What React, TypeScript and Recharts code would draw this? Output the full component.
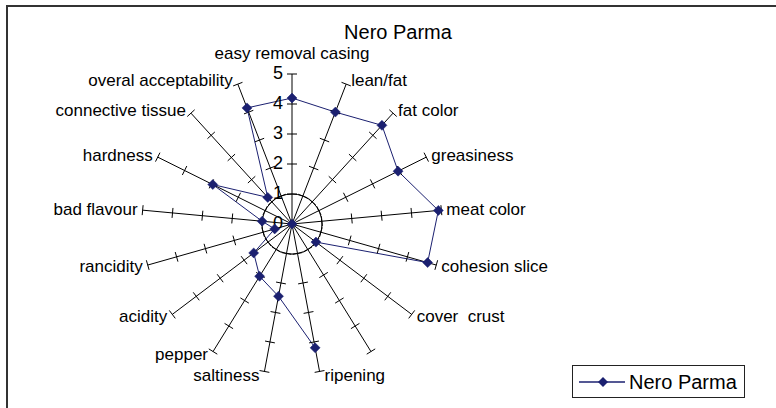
import React from 'react';
import { RadarChart, Radar, PolarGrid, PolarAngleAxis, PolarRadiusAxis, Legend } from 'recharts';

const categories = [
  'easy removal casing',
  'lean/fat',
  'fat color',
  'greasiness',
  'meat color',
  'cohesion slice',
  'cover  crust',
  '',
  'ripening',
  'saltiness',
  'pepper',
  'acidity',
  'rancidity',
  'bad flavour',
  'hardness',
  'connective tissue',
  'overal acceptability',
];
const neroParma: (number | null)[] = [4.2, 4.0, 4.45, 3.95, 4.9, 4.7, 1.0, null, 4.2, 2.45, 2.05, 1.6, 0.6, 1.0, 2.95, 1.2, 4.15];
const radiusTicks = [0, 1, 2, 3, 4, 5];
const seriesName = 'Nero Parma';
const chartTitle = 'Nero Parma';

const data = categories.map((name, i) => ({ name, value: neroParma[i] }));

const W = 776;
const H = 408;
const CX = 292;
const CY = 224;
const OUTER = 150;
const MAXV = radiusTicks[radiusTicks.length - 1];
const FONT = '"Liberation Sans", Arial, Helvetica, sans-serif';
const NAVY = '#1B2070';
const RAD = Math.PI / 180;

function AngleTick(props: any) {
  const { payload, index } = props;
  const cx = typeof props.cx === 'number' ? props.cx : CX;
  const cy = typeof props.cy === 'number' ? props.cy : CY;
  const radius = typeof props.radius === 'number' ? props.radius : OUTER;
  const angle = payload.coordinate;
  const dx = Math.cos(-angle * RAD);
  const dy = Math.sin(-angle * RAD);
  const px = -dy;
  const py = dx;
  const crosses = radiusTicks.filter((v) => v > 0).map((v) => {
    const r = (radius * v) / MAXV;
    const x = cx + dx * r;
    const y = cy + dy * r;
    return (
      <line key={v} x1={x - px * 5} y1={y - py * 5} x2={x + px * 5} y2={y + py * 5} stroke="#000" strokeWidth={1} />
    );
  });
  const ex = cx + dx * radius;
  const ey = cy + dy * radius;
  let tx = ex;
  let ty = ey + 4 * dy;
  let anchor: 'start' | 'end' | 'middle' = 'middle';
  if (Math.abs(dx) < 0.2 && dy < 0) {
    ty = ey - 21;
  } else {
    anchor = dx > 0 ? 'start' : 'end';
    tx = ex + (dx > 0 ? 5 : -5);
  }
  return (
    <g key={`at-${index}`}>
      {crosses}
      {payload.value ? (
        <text x={tx} y={ty} textAnchor={anchor} dominantBaseline="central" fontFamily={FONT} fontSize={17} fill="#000" style={{ whiteSpace: 'pre' }}>
          {payload.value}
        </text>
      ) : null}
    </g>
  );
}

function RadiusTick(props: any) {
  const { x, y, payload } = props;
  return (
    <text x={x - 9} y={y - 1} textAnchor="end" dominantBaseline="central" fontFamily={FONT} fontSize={18} fill="#000">
      {payload.value}
    </text>
  );
}

function RadarPath(props: any) {
  const pts = props.points || [];
  const n = pts.length;
  const ok = (p: any) => p && Number.isFinite(p.x) && Number.isFinite(p.y) && p.value !== null && p.value !== undefined;
  let d = '';
  for (let i = 0; i < n; i++) {
    const a = pts[i];
    const b = pts[(i + 1) % n];
    if (ok(a) && ok(b)) d += `M${a.x},${a.y}L${b.x},${b.y}`;
  }
  return <path d={d} fill="none" stroke={NAVY} strokeWidth={1} />;
}

function Diamond(props: any) {
  const { cx, cy, index } = props;
  if (!Number.isFinite(cx) || !Number.isFinite(cy)) return <g key={`d-${index}`} />;
  const s = 5;
  return <path key={`d-${index}`} d={`M${cx},${cy - s}L${cx + s},${cy}L${cx},${cy + s}L${cx - s},${cy}Z`} fill={NAVY} stroke={NAVY} strokeWidth={0.5} />;
}

function LegendBox() {
  return (
    <div style={{ width: 173, height: 33, boxSizing: 'border-box', border: '1.5px solid #222', display: 'flex', alignItems: 'center', background: '#fff' }}>
      <svg width={56} height={20} style={{ display: 'block' }}>
        <line x1={6} y1={10} x2={52} y2={10} stroke={NAVY} strokeWidth={1.5} />
        <path d="M30,5L35,10L30,15L25,10Z" fill={NAVY} />
      </svg>
      <span style={{ fontFamily: FONT, fontSize: 20, color: '#000', lineHeight: '20px' }}>{seriesName}</span>
    </div>
  );
}

export default function App() {
  return (
    <div style={{ position: 'absolute', left: 0, top: 0, width: W, height: H, overflow: 'hidden', background: '#fff' }}>
      <svg width={W} height={H} style={{ position: 'absolute', left: 0, top: 0 }}>
        <rect x={7} y={6} width={W + 20} height={H + 20} fill="none" stroke="#333" strokeWidth={2} />
        <text x={398} y={32} textAnchor="middle" dominantBaseline="central" fontFamily={FONT} fontSize={20} fill="#000">
          {chartTitle}
        </text>
      </svg>
      <div style={{ position: 'absolute', left: 0, top: 0 }}>
        <RadarChart width={W} height={H} data={data} cx={CX} cy={CY} outerRadius={OUTER} margin={{ top: 0, right: 0, bottom: 0, left: 0 }}>
          <PolarGrid gridType="circle" polarRadius={[OUTER / MAXV]} stroke="#000" strokeWidth={1} strokeOpacity={1} />
          <PolarAngleAxis dataKey="name" tick={AngleTick} axisLine={false} tickLine={false} />
          <PolarRadiusAxis angle={90} domain={[0, MAXV]} ticks={radiusTicks as any} tickCount={6} axisLine={false} tickLine={false} tick={RadiusTick} />
          <Radar name={seriesName} dataKey="value" stroke={NAVY} fill="none" fillOpacity={0} isAnimationActive={false} dot={Diamond} shape={RadarPath} />
          <Legend verticalAlign="top" align="left" content={LegendBox} wrapperStyle={{ left: 572, top: 365, width: 173, height: 33 }} />
        </RadarChart>
      </div>
    </div>
  );
}
